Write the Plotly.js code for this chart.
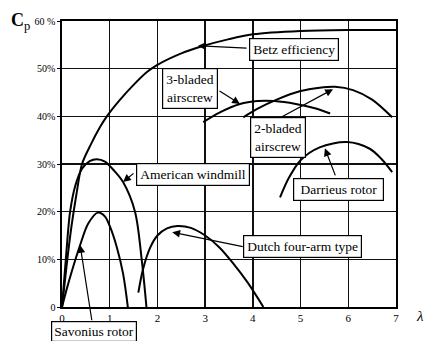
<!DOCTYPE html>
<html>
<head>
<meta charset="utf-8">
<script src="https://cdn.plot.ly/plotly-3.0.1.min.js"></script>
<style>html,body{margin:0;padding:0;background:#fff;}#chart{width:424px;height:341px;}</style>
</head>
<body>
<div id="chart"></div>
<script>
// Tip speed ratio (x) and power coefficient Cp in % (y)
const betzX = [0, 0.1, 0.2, 0.3, 0.42, 0.6, 0.8, 0.94, 1.2, 1.5, 1.78, 2.0, 2.5, 2.9, 3.5, 4.0, 5.0, 6.0, 7.0];
const betzY = [0, 9, 17, 23.5, 30, 34, 37.8, 40, 43.3, 46.6, 49.3, 50.8, 53.2, 54.6, 56.2, 57.2, 57.9, 58.1, 58.1];

const americanX = [0, 0.08, 0.17, 0.28, 0.42, 0.58, 0.73, 0.9, 1.1, 1.28, 1.53, 1.67, 1.77];
const americanY = [0, 10, 20, 25.5, 29, 30.6, 31, 30.5, 28.5, 26.2, 20, 10, 0];

const savoniusX = [0, 0.1, 0.2, 0.38, 0.55, 0.75, 0.9, 1.0, 1.15, 1.28, 1.38];
const savoniusY = [0, 3.8, 7.3, 13, 17.5, 19.8, 19, 17, 12.5, 7, 0];

const dutchX = [1.6, 1.7, 1.85, 2.0, 2.2, 2.42, 2.7, 3.0, 3.3, 3.6, 3.9, 4.22];
const dutchY = [3, 8, 12.5, 15, 16.5, 17, 16.6, 15, 12.5, 9, 5, 0];

const threeBladeX = [2.96, 3.3, 3.73, 4.1, 4.45, 4.9, 5.3, 5.62];
const threeBladeY = [38.8, 40.8, 42.6, 43.2, 43.2, 42.6, 41.7, 40.6];

const twoBladeX = [3.8, 4.1, 4.5, 5.0, 5.4, 5.72, 6.1, 6.5, 6.92];
const twoBladeY = [39.8, 41.6, 43.5, 45.3, 46, 46.2, 45.5, 43.5, 39.8];

const darrieusX = [4.57, 4.75, 5.0, 5.4, 5.97, 6.45, 6.7, 6.92];
const darrieusY = [23, 27, 30.8, 33.5, 34.6, 33.2, 31, 28.3];

const xTickVals = [0, 1, 2, 3, 4, 5, 6, 7];
const xTickText = ['0', '1', '2', '3', '4', '5', '6', '7'];
const yTickVals = [0, 10, 20, 30, 40, 50, 60];
const yTickText = ['0', '10%', '20%', '30%', '40%', '50%', '60 %'];

// label boxes: text, box centre (x, y), arrow head (x, y), arrow tail (x, y)
const labelText = ['Betz efficiency', '3-bladed<br>airscrew', '2-bladed<br>airscrew', 'American windmill', '&nbsp;Darrieus rotor&nbsp;', 'Dutch four-arm type', 'Savonius rotor'];
const labelX = [4.86, 2.68, 4.52, 2.75, 5.80, 5.03, 0.68];
const labelY = [54.0, 45.8, 35.5, 27.9, 24.6, 12.6, -5.05];
const labelPad = [3, 3, 3, 3, 3, 3, 2];
const headX = [2.85, 3.73, 5.68, 1.28, 5.51, 2.31, 0.38];
const headY = [54.8, 42.6, 45.7, 26.2, 33.3, 15.7, 13];
const tailX = [3.90, 3.27, 4.55, 1.53, 5.74, 3.82, 0.63];
const tailY = [54.3, 45.5, 39.6, 28.3, 27.3, 12.6, -3.1];

const line = {color: '#000', width: 2, shape: 'spline', smoothing: 0.9};
const series = [
  [betzX, betzY], [americanX, americanY], [savoniusX, savoniusY], [dutchX, dutchY],
  [threeBladeX, threeBladeY], [twoBladeX, twoBladeY], [darrieusX, darrieusY]
];
const data = series.map(s => ({x: s[0], y: s[1], mode: 'lines', type: 'scatter', line: line, hoverinfo: 'skip', cliponaxis: false}));

const serif = 'Liberation Serif, Times New Roman, serif';
const yMin = 0, yMax = 60;
const annotations = [];
for (let i = 0; i < labelText.length; i++) {
  annotations.push({
    x: headX[i], y: headY[i], xref: 'x', yref: 'y',
    ax: tailX[i], ay: tailY[i], axref: 'x', ayref: 'y',
    text: '', showarrow: true, arrowhead: 2, arrowsize: 1.3, arrowwidth: 1.2, arrowcolor: '#000'
  });
}
for (let i = 0; i < labelText.length; i++) {
  const inside = labelY[i] >= yMin;
  annotations.push({
    x: labelX[i], xref: 'x',
    y: inside ? labelY[i] : (labelY[i] - yMin) / (yMax - yMin), yref: inside ? 'y' : 'paper',
    xanchor: 'center', yanchor: 'middle',
    text: labelText[i], showarrow: false, bgcolor: '#fff', bordercolor: '#000', borderwidth: 1.2, borderpad: labelPad[i],
    font: {family: serif, size: 13.5, color: '#000'}, align: 'center'
  });
}
annotations.push({xref: 'paper', yref: 'paper', x: -0.16, y: 1.0, xanchor: 'left', yanchor: 'middle',
  text: '<b>C</b><sub>p</sub>', showarrow: false, font: {family: serif, size: 18, color: '#000'}});
annotations.push({xref: 'paper', yref: 'paper', x: 1.055, y: -0.03, xanchor: 'left', yanchor: 'middle',
  text: '<i>λ</i>', showarrow: false, font: {family: serif, size: 15, color: '#000'}});

const layout = {
  width: 424, height: 341,
  margin: {l: 62, r: 28, t: 21, b: 34},
  paper_bgcolor: '#fff', plot_bgcolor: '#fff',
  showlegend: false,
  xaxis: {
    range: [0, 7], tickvals: xTickVals, ticktext: xTickText,
    showgrid: true, gridcolor: '#111', gridwidth: 1.3, zeroline: false,
    showline: true, linecolor: '#000', linewidth: 1.6, mirror: true,
    ticks: '', tickfont: {family: serif, size: 11, color: '#000'}
  },
  yaxis: {
    range: [yMin, yMax], tickvals: yTickVals, ticktext: yTickText,
    showgrid: true, gridcolor: '#111', gridwidth: 1.3, zeroline: false,
    showline: true, linecolor: '#000', linewidth: 1.6, mirror: true,
    ticks: 'outside', ticklen: 3, tickcolor: '#000', tickfont: {family: serif, size: 10, color: '#000'}
  },
  annotations: annotations
};

Plotly.newPlot('chart', data, layout, {displayModeBar: false, staticPlot: true});
</script>
</body>
</html>
